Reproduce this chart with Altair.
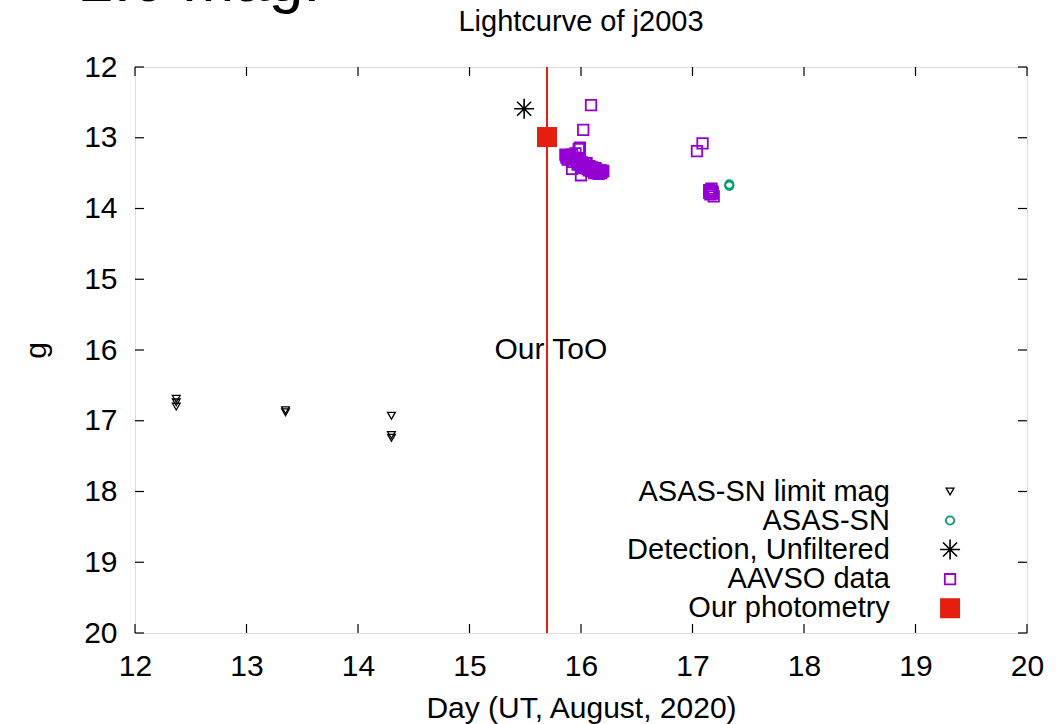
import altair as alt
import pandas as pd

FONT = "Liberation Sans"

# ASAS-SN limiting magnitudes
lim_day = [12.37, 12.37, 12.37, 13.35, 13.35, 14.30, 14.30, 14.30]
lim_mag = [16.69, 16.74, 16.80, 16.85, 16.88, 16.93, 17.20, 17.24]

# ASAS-SN detections
asas_day = [17.33, 17.33]
asas_mag = [13.66, 13.68]

# Discovery detection (unfiltered)
det_day = [15.49]
det_mag = [12.59]

# AAVSO data
aavso_day = [16.09, 16.02, 15.98, 15.99, 15.92, 16.00,
             15.86, 15.87, 15.88, 15.89, 15.90, 15.91, 15.92, 15.93, 15.94, 15.95,
             15.96, 15.97, 15.98, 15.99, 16.00, 16.01, 16.02, 16.03, 16.04, 16.05,
             16.06, 16.07, 16.08, 16.09, 16.10, 16.11, 16.12, 16.13, 16.14, 16.15,
             16.16, 16.17, 16.18, 16.19, 16.20, 15.88, 15.93, 15.97, 16.02, 16.07,
             16.12, 16.16, 15.87, 15.90, 16.05, 16.10, 16.14, 16.18,
             17.09, 17.04,
             17.15, 17.16, 17.17, 17.16, 17.18, 17.19, 17.17, 17.15, 17.18]
aavso_mag = [12.54, 12.89, 13.16, 13.14, 13.44, 13.53,
             13.24, 13.28, 13.25, 13.26, 13.27, 13.30, 13.24, 13.28, 13.29, 13.22,
             13.33, 13.30, 13.36, 13.31, 13.40, 13.35, 13.38, 13.43, 13.37, 13.36,
             13.44, 13.40, 13.41, 13.47, 13.44, 13.45, 13.49, 13.43, 13.47, 13.50,
             13.46, 13.48, 13.46, 13.48, 13.47, 13.31, 13.34, 13.38, 13.42, 13.46,
             13.50, 13.51, 13.26, 13.25, 13.40, 13.42, 13.45, 13.50,
             13.08, 13.19,
             13.74, 13.77, 13.75, 13.80, 13.79, 13.83, 13.72, 13.78, 13.76]

# Our photometry
our_day = [15.695]
our_mag = [12.99]

# Time of our ToO
too_day = [15.695]

# axis ticks
x_ticks = [12, 13, 14, 15, 16, 17, 18, 19, 20]
y_ticks = [12, 13, 14, 15, 16, 17, 18, 19, 20]

# legend
leg_labels = ["ASAS-SN limit mag", "ASAS-SN", "Detection, Unfiltered", "AAVSO data", "Our photometry"]
leg_mag = [18.0, 18.41, 18.82, 19.24, 19.65]
leg_text_day = 18.77
leg_sym_day = 19.31

W, H = 892, 566
FS = 30
LFS = 29
xs = alt.Scale(domain=[12, 20], nice=False, zero=False)
ys = alt.Scale(domain=[12, 20], reverse=True, nice=False, zero=False)

X = lambda f="day", **k: alt.X(f, type="quantitative", scale=xs, **k)
Y = lambda f="mag", **k: alt.Y(f, type="quantitative", scale=ys, **k)

PURPLE = "#9400d3"
TEAL = "#009e73"
RED = "#e51e10"
ASTERISK = "M-1,0L1,0M0,-1L0,1M-0.7,-0.7L0.7,0.7M-0.7,0.7L0.7,-0.7"

base_axes = alt.Chart(pd.DataFrame({"day": x_ticks, "mag": y_ticks})).mark_point(opacity=0).encode(
    x=X(axis=alt.Axis(values=x_ticks, ticks=False, domain=False, grid=False, labelFlush=False,
                      labelFontSize=FS, labelPadding=18, labelColor="black",
                      title="Day (UT, August, 2020)", titleFontSize=FS,
                      titleFontWeight="normal", titlePadding=12, titleColor="black",
                      labelFont=FONT, titleFont=FONT, format="d")),
    y=Y(axis=alt.Axis(values=y_ticks, ticks=False, domain=False, grid=False, labelFlush=False,
                      labelFontSize=FS, labelPadding=18, labelColor="black",
                      title="g", titleFontSize=FS, titleFontWeight="normal",
                      titlePadding=32, titleColor="black",
                      labelFont=FONT, titleFont=FONT, format="d")),
)

tdf = pd.DataFrame({"day": x_ticks, "mag": y_ticks})
tick_b = alt.Chart(tdf).mark_rule(color="black", strokeWidth=1.2).encode(
    x=X(), y=alt.value(H), y2=alt.value(H - 9))
tick_t = alt.Chart(tdf).mark_rule(color="black", strokeWidth=1.2).encode(
    x=X(), y=alt.value(0), y2=alt.value(9))
tick_l = alt.Chart(tdf).mark_rule(color="black", strokeWidth=1.2).encode(
    y=Y(), x=alt.value(0), x2=alt.value(9))
tick_r = alt.Chart(tdf).mark_rule(color="black", strokeWidth=1.2).encode(
    y=Y(), x=alt.value(W), x2=alt.value(W - 9))

too_line = alt.Chart(pd.DataFrame({"day": too_day})).mark_rule(color=RED, strokeWidth=2).encode(
    x=X(), y=alt.value(0), y2=alt.value(H))
too_text = alt.Chart(pd.DataFrame({"day": [15.73], "mag": [16.0], "t": ["Our ToO"]})).mark_text(
    fontSize=FS, font=FONT, color="black", align="center", baseline="middle").encode(
    x=X(), y=Y(), text="t:N")

lim = alt.Chart(pd.DataFrame({"day": lim_day, "mag": lim_mag})).mark_point(
    shape="triangle-down", filled=False, color="black", size=60, strokeWidth=1.3, opacity=1).encode(x=X(), y=Y())
asas = alt.Chart(pd.DataFrame({"day": asas_day, "mag": asas_mag})).mark_point(
    shape="circle", filled=False, color=TEAL, size=70, strokeWidth=1.8, opacity=1).encode(x=X(), y=Y())
det = alt.Chart(pd.DataFrame({"day": det_day, "mag": det_mag})).mark_point(
    shape=ASTERISK, filled=False, color="black", size=400, strokeWidth=1.6, opacity=1).encode(x=X(), y=Y())
aav = alt.Chart(pd.DataFrame({"day": aavso_day, "mag": aavso_mag})).mark_point(
    shape="square", filled=False, color=PURPLE, size=110, strokeWidth=1.8, opacity=1).encode(x=X(), y=Y())
ours = alt.Chart(pd.DataFrame({"day": our_day, "mag": our_mag})).mark_point(
    shape="square", filled=True, color=RED, size=400, opacity=1).encode(x=X(), y=Y())

# legend
leg_txt = alt.Chart(pd.DataFrame({"day": [leg_text_day] * 5, "mag": leg_mag, "t": leg_labels})).mark_text(
    fontSize=LFS, font=FONT, color="black", align="right", baseline="middle").encode(
    x=X(), y=Y(), text="t:N")
ld = [leg_sym_day]
leg1 = alt.Chart(pd.DataFrame({"day": ld, "mag": [leg_mag[0]]})).mark_point(
    shape="triangle-down", filled=False, color="black", size=60, strokeWidth=1.3, opacity=1).encode(x=X(), y=Y())
leg2 = alt.Chart(pd.DataFrame({"day": ld, "mag": [leg_mag[1]]})).mark_point(
    shape="circle", filled=False, color=TEAL, size=70, strokeWidth=1.8, opacity=1).encode(x=X(), y=Y())
leg3 = alt.Chart(pd.DataFrame({"day": ld, "mag": [leg_mag[2]]})).mark_point(
    shape=ASTERISK, filled=False, color="black", size=400, strokeWidth=1.6, opacity=1).encode(x=X(), y=Y())
leg4 = alt.Chart(pd.DataFrame({"day": ld, "mag": [leg_mag[3]]})).mark_point(
    shape="square", filled=False, color=PURPLE, size=110, strokeWidth=1.8, opacity=1).encode(x=X(), y=Y())
leg5 = alt.Chart(pd.DataFrame({"day": ld, "mag": [leg_mag[4]]})).mark_point(
    shape="square", filled=True, color=RED, size=400, opacity=1).encode(x=X(), y=Y())

title = alt.Chart(pd.DataFrame({"t": ["Lightcurve of j2003"]})).mark_text(
    fontSize=29, font=FONT, color="black", align="center", baseline="middle").encode(
    x=alt.value(W / 2), y=alt.value(-45), text="t:N")
big = alt.Chart(pd.DataFrame({"t": ["+2.0 mag."]})).mark_text(
    fontSize=62, font=FONT, color="black", align="left", baseline="alphabetic").encode(
    x=alt.value(-92), y=alt.value(-66), text="t:N")

chart = alt.layer(
    base_axes, too_line, too_text, lim, asas, det, aav, ours,
    tick_b, tick_t, tick_l, tick_r,
    leg_txt, leg1, leg2, leg3, leg4, leg5, title, big
).properties(
    width=W, height=H,
    autosize=alt.AutoSizeParams(type="none"),
    padding={"left": 135, "top": 67, "right": 29, "bottom": 91},
).configure_view(
    stroke="black", strokeWidth=1.5
).configure(font=FONT, background="white")

chart.save("out.html", embed_options={"renderer": "svg", "actions": False})
